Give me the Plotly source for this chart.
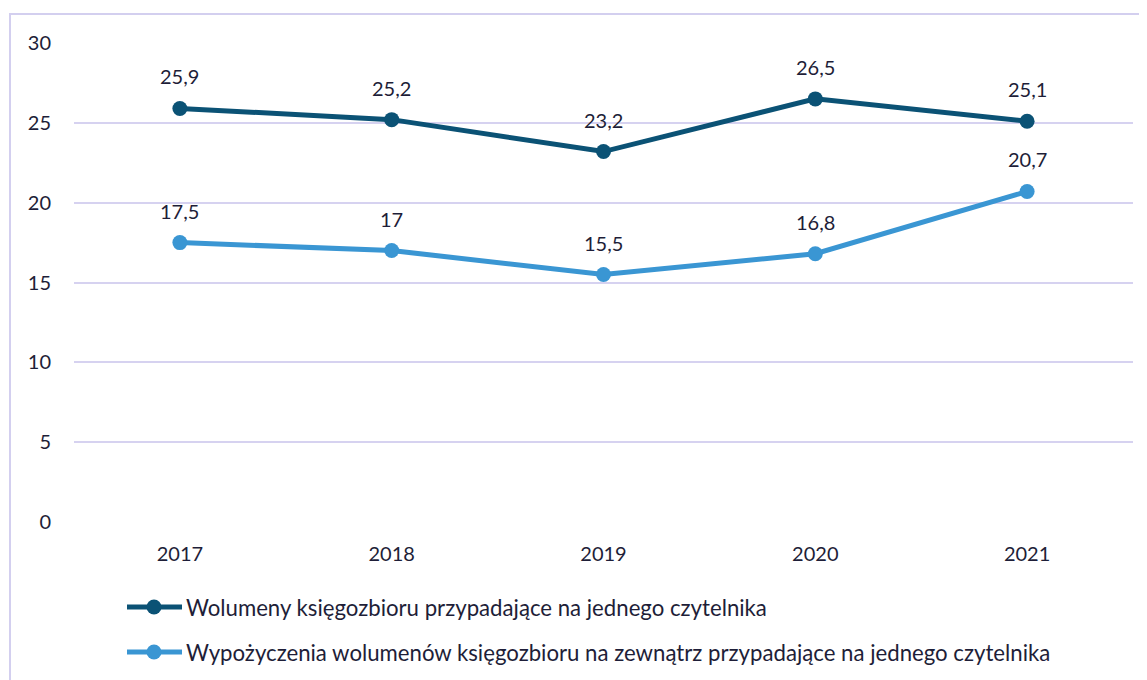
import plotly.graph_objects as go

years = ["2017", "2018", "2019", "2020", "2021"]
volumes = [25.9, 25.2, 23.2, 26.5, 25.1]
loans = [17.5, 17.0, 15.5, 16.8, 20.7]
series_names = [
    "Wolumeny księgozbioru przypadające na jednego czytelnika",
    "Wypożyczenia wolumenów księgozbioru na zewnątrz przypadające na jednego czytelnika",
]
colors = ["#0B5275", "#3A96D3"]
y_ticks = [0, 5, 10, 15, 20, 25, 30]

FONT = "Lato, 'Open Sans', sans-serif"
TEXT = "#1E1E38"
GRID = "#D6D2F0"

# page offset of the plotly div (default body margin)
OFF = 8
W, H = 1147 - OFF, 680 - OFF
L, T, R, B = 74 - OFF, 43 - OFF, 14, 158
PW = W - L - R
PH = H - T - B


def px_x(px):
    return (px - OFF - L) / PW


def px_y(py):
    return (H - B - (py - OFF)) / PH


def fmt(v):
    return f"{v:g}".replace(".", ",")


fig = go.Figure()
annotations = []
shapes = []
for name, vals, col in zip(series_names, [volumes, loans], colors):
    fig.add_trace(go.Scatter(
        x=years, y=vals, name=name, mode="lines+markers",
        line=dict(color=col, width=5),
        marker=dict(color=col, size=15),
        showlegend=False,
    ))
    for i, v in enumerate(vals):
        annotations.append(dict(
            x=i, y=v, xref="x", yref="y", text=fmt(v), showarrow=False,
            yshift=32, font=dict(family=FONT, size=20, color=TEXT),
        ))

# custom legend
legend_rows = [607, 652]
for name, col, row in zip(series_names, colors, legend_rows):
    yy = px_y(row)
    shapes.append(dict(
        type="line", xref="paper", yref="paper",
        x0=px_x(127), x1=px_x(182), y0=yy, y1=yy,
        line=dict(color=col, width=5),
    ))
    shapes.append(dict(
        type="circle", xref="paper", yref="paper",
        xsizemode="pixel", ysizemode="pixel",
        xanchor=px_x(154), yanchor=yy,
        x0=-7.5, x1=7.5, y0=-7.5, y1=7.5,
        line=dict(color=col, width=0), fillcolor=col,
    ))
    annotations.append(dict(
        x=px_x(184), y=yy, xref="paper", yref="paper", text=name,
        showarrow=False, xanchor="left", yanchor="middle",
        font=dict(family=FONT, size=22.2, color=TEXT),
    ))

shapes.append(dict(
    type="rect", xref="paper", yref="paper",
    x0=px_x(10), x1=1.05, y0=-0.5, y1=px_y(14),
    line=dict(color="#D3CFEF", width=2), fillcolor="rgba(0,0,0,0)",
    layer="below",
))

fig.update_layout(
    width=W, height=H,
    margin=dict(l=L, r=R, t=T, b=B),
    paper_bgcolor="white", plot_bgcolor="white",
    font=dict(family=FONT, size=18, color=TEXT),
    showlegend=False,
    annotations=annotations,
    shapes=shapes,
)
fig.update_xaxes(
    type="category", range=[-0.5, 4.5], showgrid=False, zeroline=False,
    showline=False, ticks="", ticklabelstandoff=18,
    tickfont=dict(family=FONT, size=20, color=TEXT),
)
fig.update_yaxes(
    range=[0, 30], tickvals=y_ticks, showgrid=True, gridcolor=GRID, gridwidth=2,
    zeroline=False, showline=False, ticks="", ticklabelstandoff=22,
    tickfont=dict(family=FONT, size=20, color=TEXT),
)

fig.write_html("out.html")
